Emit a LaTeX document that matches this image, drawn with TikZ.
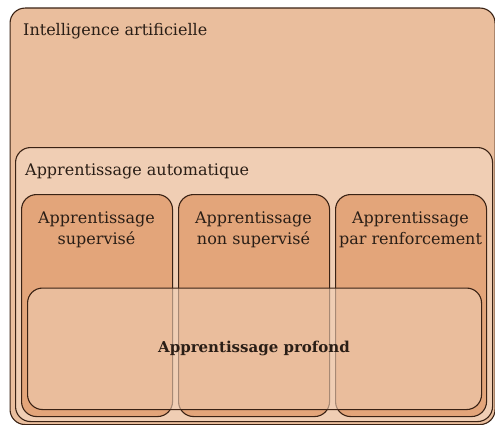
\documentclass[tikz,border=0pt]{standalone}
\usepackage{fontspec}
\setmainfont{DejaVu Serif}
\definecolor{iacol}{RGB}{234,190,157}
\definecolor{mlcol}{RGB}{240,206,180}
\definecolor{subcol}{RGB}{227,165,122}
\definecolor{bordercol}{RGB}{58,34,20}
\definecolor{textcol}{RGB}{42,30,22}
\begin{document}
\begin{tikzpicture}[x=1pt,y=-1pt,
  box/.style={draw=bordercol, line width=1.1pt, rounded corners=15pt, inner sep=0pt, anchor=north west},
  lbl/.style={text=textcol, inner sep=0pt, font=\fontsize{16}{20}\selectfont}]
\useasboundingbox (0,0) rectangle (495,425);
\node[box, fill=iacol, minimum width=485pt, minimum height=416.5pt] (ia) at (9.5,7.5) {};
\node[box, fill=mlcol, minimum width=477pt, minimum height=274pt] (ml) at (15,147) {};
\node[box, fill=subcol, minimum width=151pt, minimum height=222pt] (sup) at (21,194) {};
\node[box, fill=subcol, minimum width=151pt, minimum height=222pt] (nsup) at (178,194) {};
\node[box, fill=subcol, minimum width=151pt, minimum height=222pt] (renf) at (335,194) {};
\node[box, fill=mlcol, fill opacity=0.6, minimum width=454pt, minimum height=121.5pt] (dl) at (27,287.5) {};
\node[lbl, anchor=base west] (tia) at (23,36) {Intelligence artificielle};
\node[lbl, anchor=base west] (tml) at (25,175) {Apprentissage automatique};
\node[lbl, anchor=base] (tsup1) at (96.5,223) {Apprentissage};
\node[lbl, anchor=base] (tsup2) at (96.5,244) {supervisé};
\node[lbl, anchor=base] (tnsup1) at (253.5,223) {Apprentissage};
\node[lbl, anchor=base] (tnsup2) at (253.5,244) {non supervisé};
\node[lbl, anchor=base] (trenf1) at (410.5,223) {Apprentissage};
\node[lbl, anchor=base] (trenf2) at (410.5,244) {par renforcement};
\node[lbl, anchor=base, font=\fontsize{15}{20}\selectfont\bfseries] (tdl) at (254,352.5) {Apprentissage profond};
\end{tikzpicture}
\end{document}
